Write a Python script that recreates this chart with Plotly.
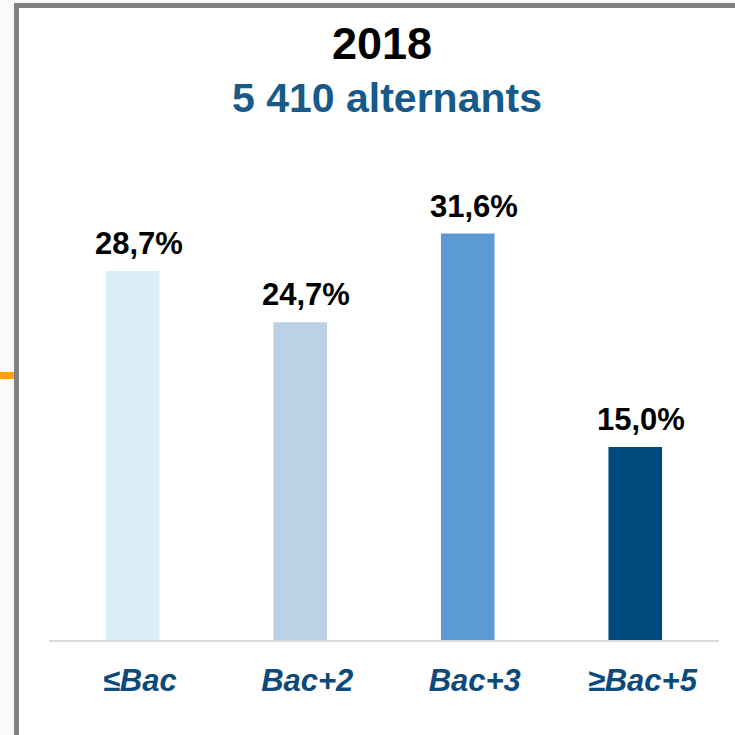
import plotly.graph_objects as go

# data
categories = ["≤Bac", "Bac+2", "Bac+3", "≥Bac+5"]
shares = [28.7, 24.7, 31.6, 15.0]
labels = ["28,7%", "24,7%", "31,6%", "15,0%"]
bar_colors = ["#DAEEF8", "#BDD1E6", "#5B9BD5", "#004A7D"]
title_year = "2018"
subtitle = "5 410 alternants"

W, H = 735, 735
L, R, T, B = 49, 16, 140, 95
PW, PH = W - L - R, H - T - B
FONT = "Liberation Sans, Arial, sans-serif"


def px(x):
    return (x - L) / PW


def py(y):
    return (H - B - y) / PH


fig = go.Figure(
    go.Bar(
        x=categories,
        y=shares,
        width=0.32,
        marker=dict(color=bar_colors, line=dict(width=0)),
        hoverinfo="skip",
    )
)

shapes = [
    # off-white strips outside the frame
    dict(type="rect", xref="paper", yref="paper", x0=px(0), x1=px(14), y0=py(735), y1=py(0),
         fillcolor="#FAFAFA", line_width=0, layer="below"),
    dict(type="rect", xref="paper", yref="paper", x0=px(0), x1=px(735), y0=py(3), y1=py(0),
         fillcolor="#FAFAFA", line_width=0, layer="below"),
    # gray frame
    dict(type="line", xref="paper", yref="paper", x0=px(16.5), x1=px(16.5), y0=py(3), y1=py(735),
         line=dict(color="#808080", width=5)),
    dict(type="line", xref="paper", yref="paper", x0=px(14), x1=px(735), y0=py(5.5), y1=py(5.5),
         line=dict(color="#808080", width=5)),
    # orange tick on the left
    dict(type="line", xref="paper", yref="paper", x0=px(0), x1=px(14), y0=py(375.5), y1=py(375.5),
         line=dict(color="#FFA000", width=7)),
]

annotations = [
    dict(text=f"<b>{title_year}</b>", xref="paper", yref="paper", x=px(382), y=py(43),
         xanchor="center", yanchor="middle",
         showarrow=False, font=dict(family=FONT, size=45, color="#000000")),
    dict(text=f"<b>{subtitle}</b>", xref="paper", yref="paper", x=px(387), y=py(98),
         xanchor="center", yanchor="middle",
         showarrow=False, font=dict(family=FONT, size=41, color="#175A87")),
]

# value labels above the bars
for cat, val, lab in zip(categories, shares, labels):
    annotations.append(
        dict(text=f"<b>{lab}</b>", x=cat, y=val, xref="x", yref="y",
             xanchor="center", yanchor="bottom", xshift=6, yshift=8,
             showarrow=False, font=dict(family=FONT, size=31, color="#000000"))
    )

fig.update_layout(
    width=W,
    height=H,
    margin=dict(l=L, r=R, t=T, b=B),
    paper_bgcolor="#FFFFFF",
    plot_bgcolor="#FFFFFF",
    showlegend=False,
    shapes=shapes,
    annotations=annotations,
    xaxis=dict(
        showline=True,
        linecolor="#D9D9D9",
        linewidth=2,
        ticks="outside",
        ticklen=12,
        tickcolor="rgba(0,0,0,0)",
        ticklabelshift=7,
        tickfont=dict(family=FONT, size=31, color="#0C4A7A", weight="bold", style="italic"),
        fixedrange=True,
    ),
    yaxis=dict(
        range=[0, PH / 12.86],
        visible=False,
        showgrid=False,
        fixedrange=True,
    ),
)

# drop the browser's default body margin so the figure sits at the page corner
fig.write_html("out.html", config={"displayModeBar": False},
               post_script="document.body.style.margin='0';")
